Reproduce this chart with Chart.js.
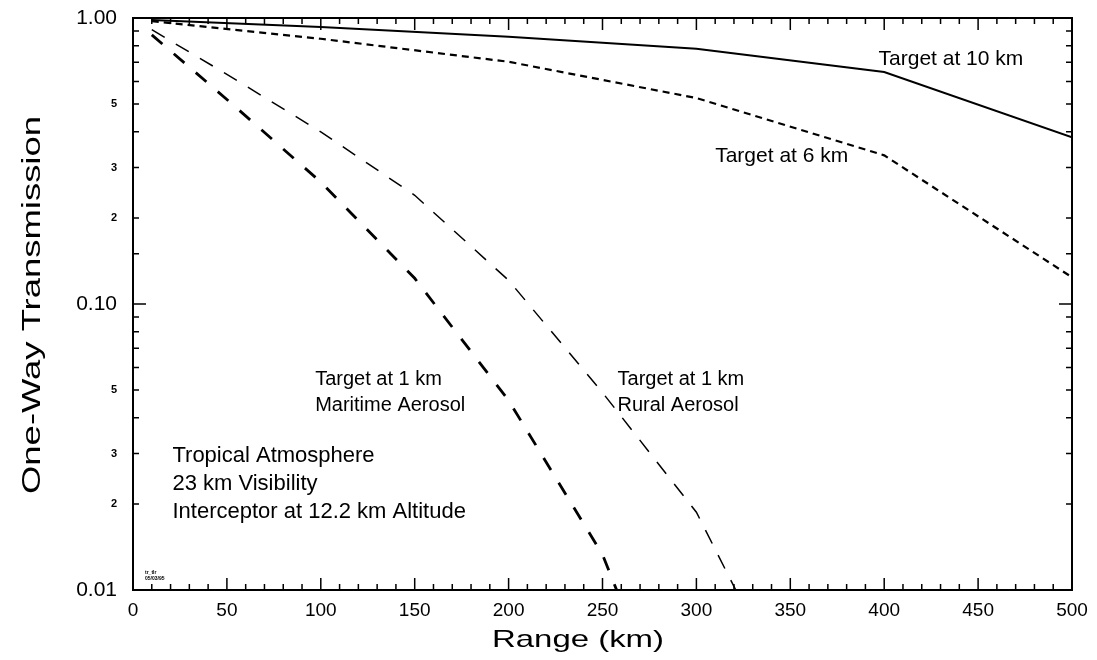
<!DOCTYPE html>
<html>
<head>
<meta charset="utf-8">
<script src="https://cdn.jsdelivr.net/npm/chart.js@4/dist/chart.umd.min.js"></script>
<style>
  body { margin: 0; background: #fff; }
  #wrap { width: 1097px; height: 660px; position: relative; }
</style>
</head>
<body>
<div id="wrap"><canvas id="c"></canvas></div>
<script>
// ranges (km) and one-way transmission
const range10km = [10, 100, 200, 300, 400, 500];
const trans10km = [0.985, 0.93, 0.86, 0.78, 0.647, 0.383];

const range6km = [10, 100, 200, 300, 400, 500];
const trans6km = [0.975, 0.846, 0.703, 0.525, 0.331, 0.124];

const rangeRural = [10, 50, 100, 150, 200, 250, 300, 350];
const transRural = [0.91, 0.635, 0.40, 0.24, 0.121, 0.049, 0.0187, 0.0042];

const rangeMaritime = [10, 50, 100, 150, 200, 250, 300];
const transMaritime = [0.873, 0.519, 0.267, 0.123, 0.046, 0.0133, 0.002];

const xTickLabels = [0, 50, 100, 150, 200, 250, 300, 350, 400, 450, 500];
const yMajorLabels = { '0.01': '0.01', '0.1': '0.10', '1': '1.00' };
const yMinorLabels = [2, 3, 5];

const FONT = '"Liberation Sans", Arial, sans-serif';

function pts(xs, ys) {
    return xs.map((x, i) => ({ x: x, y: ys[i] }));
}

function mantissa(v) {
    const e = Math.floor(Math.log10(v) + 1e-9);
    return Math.round(v / Math.pow(10, e));
}

function isDecade(v) {
    return Math.abs(Math.log10(v) - Math.round(Math.log10(v))) < 1e-6;
}

// text labels placed in data coordinates
const notes = [
    { x: 397, y: 0.72, lines: ['Target at 10 km'], size: 21 },
    { x: 310, y: 0.33, lines: ['Target at 6 km'], size: 21 },
    { x: 97, y: 0.0545, lines: ['Target at 1 km', 'Maritime Aerosol'], size: 20 },
    { x: 258, y: 0.0545, lines: ['Target at 1 km', 'Rural Aerosol'], size: 20 },
    { x: 21, y: 0.0295, lines: ['Tropical Atmosphere', '23 km Visibility', 'Interceptor at 12.2 km Altitude'], size: 22 },
];

const framePlugin = {
    id: 'frame',
    afterDraw(chart) {
        const { ctx, chartArea: a, scales } = chart;
        ctx.save();
        ctx.strokeStyle = '#000';
        ctx.lineWidth = 2;
        ctx.strokeRect(a.left, a.top, a.right - a.left, a.bottom - a.top);

        ctx.lineWidth = 1.5;
        ctx.beginPath();
        scales.x.ticks.forEach(t => {
            const px = scales.x.getPixelForValue(t.value);
            const len = t.value % 50 === 0 ? 12 : 6;
            ctx.moveTo(px, a.bottom); ctx.lineTo(px, a.bottom - len);
            ctx.moveTo(px, a.top); ctx.lineTo(px, a.top + len);
        });
        scales.y.ticks.forEach(t => {
            const py = scales.y.getPixelForValue(t.value);
            const len = isDecade(t.value) ? 13 : 6;
            ctx.moveTo(a.left, py); ctx.lineTo(a.left + len, py);
            ctx.moveTo(a.right, py); ctx.lineTo(a.right - len, py);
        });
        ctx.stroke();

        // annotations
        ctx.fillStyle = '#000';
        ctx.textAlign = 'left';
        ctx.textBaseline = 'middle';
        notes.forEach(n => {
            ctx.font = n.size + 'px ' + FONT;
            const px = scales.x.getPixelForValue(n.x);
            const py = scales.y.getPixelForValue(n.y);
            n.lines.forEach((l, i) => ctx.fillText(l, px, py + i * (n.size + 6)));
        });

        // tiny plot id
        ctx.font = 'bold 5px ' + FONT;
        ctx.fillText('tr_tlr', a.left + 12, a.bottom - 17);
        ctx.fillText('05/03/95', a.left + 12, a.bottom - 11);

        // axis titles, stretched like the original
        ctx.font = '25px ' + FONT;
        ctx.textAlign = 'center';
        let w = ctx.measureText('One-Way Transmission').width;
        ctx.save();
        ctx.translate(33, (a.top + a.bottom) / 2 + 1);
        ctx.rotate(-Math.PI / 2);
        ctx.scale(378 / w, 1);
        ctx.fillText('One-Way Transmission', 0, 0);
        ctx.restore();

        ctx.font = '24px ' + FONT;
        w = ctx.measureText('Range (km)').width;
        ctx.save();
        ctx.translate(578, 640);
        ctx.scale(172 / w, 1);
        ctx.fillText('Range (km)', 0, 0);
        ctx.restore();

        ctx.restore();
    }
};

const lineBase = { borderColor: '#000', pointRadius: 0, tension: 0, fill: false };

new Chart(document.getElementById('c'), {
    type: 'line',
    data: {
        datasets: [
            { ...lineBase, label: 'Target at 10 km', data: pts(range10km, trans10km), borderWidth: 2 },
            { ...lineBase, label: 'Target at 6 km', data: pts(range6km, trans6km), borderWidth: 2.2, borderDash: [7, 5] },
            { ...lineBase, label: 'Rural', data: pts(rangeRural, transRural), borderWidth: 1.5, borderDash: [15, 13] },
            { ...lineBase, label: 'Maritime', data: pts(rangeMaritime, transMaritime), borderWidth: 2.8, borderDash: [14, 15] },
        ],
    },
    options: {
        responsive: true,
        maintainAspectRatio: false,
        animation: false,
        layout: { padding: { top: 18, right: 25, left: 0, bottom: 0 } },
        plugins: { legend: { display: false }, tooltip: { enabled: false } },
        scales: {
            x: {
                type: 'linear',
                min: 0,
                max: 500,
                grid: { display: false, drawTicks: false },
                border: { display: false },
                afterFit: s => { s.height = 70; s.paddingLeft = 0; s.paddingRight = 0; },
                ticks: {
                    stepSize: 10,
                    autoSkip: false,
                    maxRotation: 0,
                    padding: 9,
                    color: '#000',
                    font: { family: FONT, size: 19 },
                    callback: v => xTickLabels.includes(v) ? String(v) : '',
                },
            },
            y: {
                type: 'logarithmic',
                min: 0.01,
                max: 1,
                grid: { display: false, drawTicks: false },
                border: { display: false },
                afterFit: s => { s.width = 133; s.paddingTop = 0; s.paddingBottom = 0; },
                ticks: {
                    autoSkip: false,
                    padding: 16,
                    color: '#000',
                    font: c => (c.tick && isDecade(c.tick.value))
                        ? { family: FONT, size: 21 }
                        : { family: FONT, size: 11, weight: 'bold' },
                    callback: v => {
                        if (isDecade(v)) return yMajorLabels[String(+v.toPrecision(1))] || '';
                        return yMinorLabels.includes(mantissa(v)) ? String(mantissa(v)) : '';
                    },
                },
            },
        },
    },
    plugins: [framePlugin],
});
</script>
</body>
</html>
